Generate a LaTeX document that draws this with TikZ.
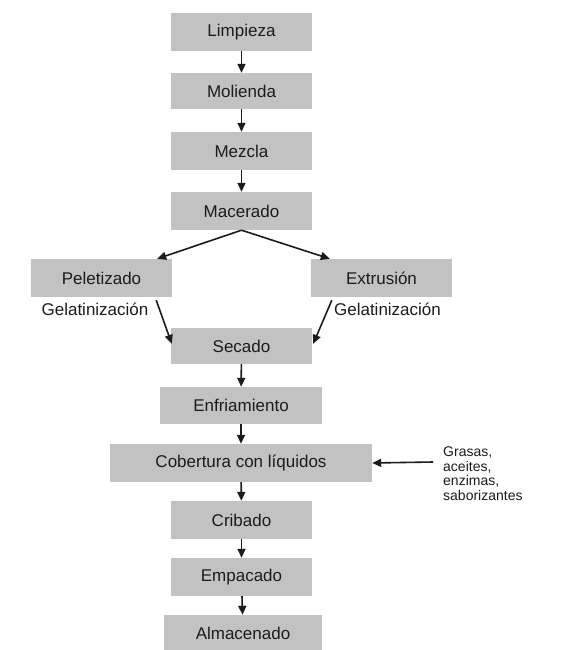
\documentclass[tikz,border=0pt]{standalone}
\usepackage{fontspec}
\setmainfont{Liberation Sans}
\usetikzlibrary{arrows.meta,calc}
\definecolor{boxgray}{HTML}{C2C2C2}
\definecolor{ink}{HTML}{1C1C1C}
\tikzset{
  stage/.style={fill=boxgray, draw=none, inner sep=0pt, minimum width=141pt,
    minimum height=37pt, font=\fontsize{17}{20}\selectfont, text=ink},
  note/.style={inner sep=0pt, font=\fontsize{17}{20}\selectfont, text=ink},
  flow/.style={draw=ink, line width=1.6pt, -{Triangle[length=9pt,width=8pt]}}
}
\begin{document}
\begin{tikzpicture}[x=1pt,y=-1pt]
\useasboundingbox (0,0) rectangle (570,650);
\fill[white] (0,0) rectangle (570,650);

% main column
\node[stage, minimum height=38pt] (limp) at (241.5,32) {Limpieza};
\node[stage, minimum height=36pt] (mol) at (241.5,91) {Molienda};
\node[stage, minimum height=38pt] (mez) at (241.5,151) {Mezcla};
\node[stage, minimum height=38pt] (mac) at (241.5,211) {Macerado};
\node[stage, minimum height=38pt] (pel) at (101.5,278) {Peletizado};
\node[stage, minimum height=38pt] (ext) at (381.5,278) {Extrusión};
\node[stage, minimum height=36pt] (sec) at (241.5,346) {Secado};
\node[stage, minimum width=162pt] (enf) at (241,405.5) {Enfriamiento};
\node[stage, minimum width=262pt, minimum height=38pt] (cob) at (241,463) {Cobertura con líquidos};
\node[stage, minimum height=38pt] (crib) at (241.5,520) {Cribado};
\node[stage, minimum height=38pt] (emp) at (241.5,577) {Empacado};
\node[stage, minimum width=158pt, minimum height=36pt] (alm) at (243,633) {Almacenado};

% side labels
\node[note] (gl) at (95,309) {Gelatinización};
\node[note] (gr) at (387.5,309) {Gelatinización};
\node[inner sep=0pt, anchor=north west, align=left, text=ink,
      font=\fontsize{14}{14.5}\selectfont] (add) at (443,447)
      {Grasas,\\aceites,\\enzimas,\\saborizantes};

% connector end points
\coordinate (pelout) at ($(pel.south east)+(-16,3)$);
\coordinate (secin1) at ($(sec.north west)+(1,16)$);
\coordinate (extout) at ($(ext.south west)+(21,3)$);
\coordinate (secin2) at ($(sec.north east)+(1,16)$);
\coordinate (pelin) at ($(pel.north east)+(-15,0)$);
\coordinate (extin) at ($(ext.north west)+(19,0)$);
\coordinate (addout) at (433,462);

% connectors
\draw[flow] (limp) -- (mol);
\draw[flow] (mol) -- (mez);
\draw[flow] (mez) -- (mac);
\draw[flow] (mac.south) -- (pelin);
\draw[flow] (mac.south) -- (extin);
\draw[flow] (pelout) -- (secin1);
\draw[flow] (extout) -- (secin2);
\draw[flow] (sec) -- (enf);
\draw[flow] (enf) -- (cob);
\draw[flow] (cob) -- (crib);
\draw[flow] (crib) -- (emp);
\draw[flow] (emp) -- (alm);
\draw[flow] (addout) -- (cob.east);
\end{tikzpicture}
\end{document}
